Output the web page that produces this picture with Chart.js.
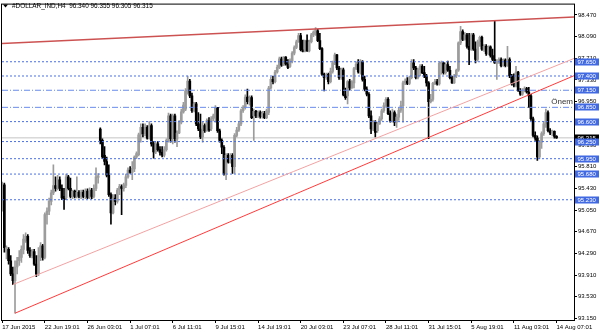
<!DOCTYPE html>
<html>
<head>
<meta charset="utf-8">
<script src="https://cdn.jsdelivr.net/npm/chart.js@4.4.1/dist/chart.umd.min.js"></script>
<style>
html, body { margin: 0; padding: 0; background: #fff; }
</style>
</head>
<body>
<canvas id="chart" width="600" height="333"></canvas>
<script>
// H4 bars of #DOLLAR_IND (bar index 0 = 17 Jun 2015)
const opens = [
  95.09, 95.49, 94.31, 94.36, 94.16, 93.93, 93.81, 94.05, 94.16, 94.22,
  94.36, 94.51, 94.59, 94.34, 94.25, 94.32, 94.10, 93.93, 94.22, 94.42,
  94.22, 94.97, 95.03, 95.20, 95.35, 95.48, 95.43, 95.58, 95.43, 95.29,
  95.26, 95.63, 95.43, 95.29, 95.38, 95.29, 95.36, 95.29, 95.36, 95.29,
  95.38, 95.27, 95.40, 95.29, 95.43, 95.62, 96.47, 96.27, 96.01, 95.90,
  95.66, 95.32, 95.00, 95.26, 95.20, 95.40, 95.46, 95.43, 95.48, 95.63,
  95.75, 95.71, 95.77, 95.98, 96.02, 96.37, 96.50, 96.39, 96.50, 96.31,
  96.53, 96.21, 96.07, 96.21, 96.11, 96.06, 96.01, 96.11, 96.27, 96.70,
  96.30, 96.70, 96.29, 96.40, 96.59, 96.77, 96.82, 97.11, 97.31, 97.05,
  96.79, 96.91, 96.56, 96.47, 96.33, 96.53, 96.44, 96.62, 96.47, 96.65,
  96.67, 96.85, 96.44, 96.27, 96.15, 95.69, 96.01, 95.89, 96.01, 95.81,
  96.36, 96.45, 96.56, 96.79, 96.85, 97.03, 96.95, 97.02, 96.70, 96.78,
  96.70, 96.76, 96.69, 96.74, 96.67, 96.76, 97.19, 97.34, 97.30, 97.47,
  97.55, 97.70, 97.59, 97.73, 97.61, 97.57, 97.66, 97.80, 97.90, 98.00,
  98.11, 97.86, 97.83, 98.02, 97.84, 98.00, 98.12, 98.15, 98.19, 98.02,
  97.88, 97.43, 97.37, 97.43, 97.30, 97.48, 97.63, 97.77, 97.54, 97.37,
  97.51, 97.07, 97.05, 97.30, 97.19, 97.28, 97.53, 97.61, 97.47, 97.65,
  97.34, 97.17, 97.08, 96.70, 96.47, 96.59, 96.44, 96.56, 96.65, 96.79,
  96.88, 96.99, 96.74, 96.62, 96.76, 96.59, 96.68, 96.80, 96.88, 97.28,
  97.31, 97.27, 97.37, 97.63, 97.54, 97.37, 97.51, 97.57, 97.46, 97.40,
  97.28, 96.95, 96.99, 97.27, 97.30, 97.26, 97.62, 97.63, 97.46, 97.60,
  97.50, 97.37, 97.28, 97.40, 97.50, 97.98, 98.18, 98.04, 98.12, 97.92,
  97.86, 98.12, 97.87, 97.69, 98.00, 98.08, 97.87, 97.92, 97.79, 97.91,
  97.76, 97.69, 97.62, 97.66, 97.69, 97.58, 97.68, 97.58, 97.69, 97.40,
  97.27, 97.24, 97.47, 97.15, 97.08, 97.15, 97.18, 97.12, 97.05, 96.65,
  96.36, 96.31, 95.98, 96.24, 96.39, 96.56, 96.76, 96.44, 96.40, 96.43,
  96.34
];
const highs = [
  95.54, 95.52, 94.42, 94.39, 94.25, 94.05, 94.16, 94.22, 94.34, 94.42,
  94.62, 94.65, 94.62, 94.39, 94.36, 94.36, 94.25, 94.39, 94.48, 94.45,
  95.00, 95.09, 95.26, 95.40, 95.84, 95.63, 95.66, 95.63, 95.49, 95.43,
  95.68, 95.66, 95.61, 95.40, 95.40, 95.63, 95.39, 95.40, 95.40, 95.42,
  95.42, 95.44, 95.43, 95.49, 95.79, 95.69, 96.49, 96.30, 96.16, 95.98,
  95.84, 95.35, 95.32, 95.32, 95.43, 95.50, 95.49, 95.52, 95.68, 95.79,
  95.81, 95.90, 96.00, 96.07, 96.40, 96.56, 96.56, 96.56, 96.53, 96.60,
  96.56, 96.25, 96.24, 96.25, 96.16, 96.16, 96.16, 96.30, 96.75, 96.73,
  96.73, 96.73, 96.44, 96.62, 96.82, 96.94, 97.18, 97.40, 97.34, 97.10,
  96.94, 96.94, 96.76, 96.73, 96.59, 96.56, 96.65, 96.67, 96.69, 96.73,
  96.88, 96.85, 96.47, 96.30, 96.18, 96.04, 96.04, 96.04, 96.04, 96.39,
  96.50, 96.59, 96.82, 96.88, 97.07, 97.17, 97.05, 97.05, 96.82, 96.80,
  96.79, 96.79, 96.78, 96.78, 96.82, 97.22, 97.38, 97.40, 97.50, 97.59,
  97.73, 97.73, 97.74, 97.74, 97.69, 97.70, 97.83, 97.93, 98.03, 98.15,
  98.15, 98.03, 98.03, 98.12, 98.03, 98.15, 98.19, 98.25, 98.22, 98.15,
  97.90, 97.45, 97.45, 97.45, 97.54, 97.66, 97.80, 97.78, 97.57, 97.54,
  97.54, 97.19, 97.32, 97.34, 97.32, 97.55, 97.65, 97.69, 97.69, 97.67,
  97.40, 97.21, 97.11, 96.79, 96.62, 96.62, 96.59, 96.69, 96.82, 96.93,
  97.02, 97.02, 96.79, 96.82, 96.79, 96.73, 96.85, 96.96, 97.31, 97.35,
  97.37, 97.40, 97.69, 97.69, 97.57, 97.54, 97.60, 97.60, 97.57, 97.43,
  97.30, 97.08, 97.29, 97.34, 97.34, 97.64, 97.66, 97.64, 97.63, 97.66,
  97.57, 97.40, 97.43, 97.52, 98.00, 98.27, 98.21, 98.16, 98.15, 98.15,
  98.15, 98.15, 98.00, 98.03, 98.10, 98.10, 97.95, 97.95, 97.93, 97.93,
  97.87, 98.37, 97.69, 97.72, 97.72, 97.70, 97.70, 97.92, 97.72, 97.43,
  97.44, 97.57, 97.48, 97.18, 97.18, 97.21, 97.20, 97.20, 97.08, 96.68,
  96.42, 96.35, 96.27, 96.42, 96.60, 96.82, 96.79, 96.48, 96.45, 96.44,
  96.355
];
const lows = [
  95.03, 94.31, 94.19, 94.10, 93.90, 93.74, 93.24, 93.93, 94.08, 94.13,
  94.28, 94.48, 94.29, 94.22, 94.21, 94.08, 93.88, 93.90, 94.16, 94.17,
  94.19, 94.80, 94.97, 95.14, 95.32, 95.38, 95.40, 95.39, 95.23, 95.06,
  95.23, 95.40, 95.26, 95.25, 95.26, 95.26, 95.26, 95.25, 95.26, 95.25,
  95.25, 95.25, 95.25, 95.26, 95.39, 95.52, 96.21, 95.95, 95.84, 95.63,
  95.29, 94.80, 94.98, 95.14, 95.17, 95.32, 94.97, 95.38, 95.44, 95.61,
  95.69, 95.58, 95.72, 95.95, 96.00, 96.24, 96.33, 96.35, 96.29, 96.29,
  96.17, 95.96, 96.04, 96.08, 96.01, 95.98, 95.98, 96.08, 96.24, 96.24,
  96.21, 96.24, 96.16, 96.39, 96.56, 96.75, 96.79, 97.08, 97.02, 96.76,
  96.77, 96.53, 96.44, 96.30, 96.24, 96.41, 96.43, 96.43, 96.44, 96.61,
  96.59, 96.41, 96.24, 96.04, 95.66, 95.58, 95.87, 95.87, 95.69, 95.69,
  96.33, 96.43, 96.53, 96.76, 96.82, 96.91, 96.89, 96.65, 96.27, 96.67,
  96.67, 96.66, 96.66, 96.65, 96.65, 96.72, 97.17, 97.26, 97.28, 97.45,
  97.53, 97.57, 97.58, 97.59, 97.53, 97.55, 97.63, 97.77, 97.88, 97.99,
  97.84, 97.82, 97.82, 97.83, 97.82, 97.98, 98.09, 98.11, 98.00, 97.86,
  97.41, 97.14, 97.34, 97.26, 97.28, 97.45, 97.60, 97.51, 97.34, 97.34,
  97.05, 96.99, 96.91, 97.15, 97.18, 97.19, 97.51, 97.45, 97.43, 97.31,
  97.14, 97.05, 96.67, 96.39, 96.44, 96.33, 96.41, 96.55, 96.62, 96.76,
  96.85, 96.72, 96.59, 96.59, 96.53, 96.50, 96.62, 96.76, 96.59, 97.25,
  97.25, 97.25, 97.35, 97.51, 97.35, 97.35, 97.40, 97.44, 97.37, 97.22,
  96.30, 96.93, 96.96, 97.25, 97.24, 97.24, 97.43, 97.43, 97.43, 97.48,
  97.35, 97.27, 97.27, 97.37, 97.48, 97.95, 98.02, 98.03, 97.89, 97.60,
  97.85, 97.85, 97.63, 97.66, 97.92, 97.85, 97.83, 97.76, 97.77, 97.73,
  97.67, 97.62, 97.34, 97.62, 97.56, 97.57, 97.56, 97.57, 97.37, 97.24,
  97.21, 97.21, 97.13, 97.06, 97.06, 97.12, 97.10, 96.85, 96.62, 96.33,
  96.27, 95.92, 95.95, 96.13, 96.36, 96.50, 96.42, 96.37, 96.35, 96.31,
  96.305
];
const closes = [
  95.49, 94.39, 94.39, 94.16, 93.93, 93.81, 94.05, 94.16, 94.22, 94.36,
  94.54, 94.59, 94.34, 94.25, 94.32, 94.10, 93.93, 94.25, 94.42, 94.22,
  94.97, 95.03, 95.20, 95.35, 95.48, 95.43, 95.58, 95.43, 95.26, 95.23,
  95.63, 95.43, 95.29, 95.38, 95.29, 95.36, 95.29, 95.36, 95.29, 95.38,
  95.27, 95.40, 95.29, 95.43, 95.63, 95.65, 96.27, 95.98, 95.90, 95.66,
  95.32, 95.00, 95.26, 95.20, 95.40, 95.46, 95.43, 95.49, 95.63, 95.75,
  95.71, 95.78, 95.98, 96.04, 96.37, 96.50, 96.39, 96.50, 96.31, 96.53,
  96.21, 96.07, 96.21, 96.11, 96.06, 96.01, 96.11, 96.27, 96.70, 96.30,
  96.70, 96.30, 96.40, 96.59, 96.77, 96.89, 97.14, 97.31, 97.05, 96.79,
  96.91, 96.56, 96.47, 96.33, 96.53, 96.44, 96.62, 96.45, 96.65, 96.70,
  96.85, 96.44, 96.27, 96.15, 95.69, 96.01, 95.89, 96.01, 95.81, 96.36,
  96.45, 96.56, 96.79, 96.85, 97.03, 96.95, 97.02, 96.67, 96.78, 96.70,
  96.76, 96.69, 96.74, 96.67, 96.79, 97.19, 97.34, 97.30, 97.47, 97.55,
  97.70, 97.59, 97.73, 97.61, 97.55, 97.67, 97.80, 97.90, 98.00, 98.11,
  97.86, 97.83, 98.02, 97.84, 98.00, 98.12, 98.17, 98.21, 98.02, 97.88,
  97.43, 97.37, 97.43, 97.30, 97.48, 97.63, 97.77, 97.54, 97.37, 97.51,
  97.07, 97.02, 97.30, 97.19, 97.30, 97.53, 97.61, 97.47, 97.65, 97.34,
  97.17, 97.08, 96.70, 96.47, 96.59, 96.41, 96.56, 96.65, 96.79, 96.88,
  96.99, 96.74, 96.62, 96.76, 96.59, 96.68, 96.80, 96.88, 97.28, 97.31,
  97.27, 97.37, 97.63, 97.54, 97.37, 97.51, 97.57, 97.46, 97.40, 97.28,
  96.95, 96.99, 97.27, 97.30, 97.26, 97.62, 97.63, 97.46, 97.60, 97.50,
  97.37, 97.28, 97.40, 97.50, 97.98, 98.18, 98.04, 98.12, 97.92, 97.86,
  98.12, 97.87, 97.69, 98.00, 98.08, 97.87, 97.92, 97.79, 97.91, 97.76,
  97.69, 97.63, 97.66, 97.69, 97.58, 97.68, 97.58, 97.69, 97.40, 97.27,
  97.24, 97.47, 97.15, 97.08, 97.15, 97.18, 97.12, 97.05, 96.65, 96.36,
  96.31, 95.98, 96.24, 96.39, 96.56, 96.76, 96.44, 96.40, 96.43, 96.34,
  96.315
];

// time axis: one label every 20 bars
const xTickBars = [0, 20, 40, 60, 80, 100, 120, 140, 160, 180, 200, 220, 240, 260];
const xTickLabels = ['17 Jun 2015', '22 Jun 19:01', '26 Jun 03:01', '1 Jul 07:01', '6 Jul 11:01',
  '9 Jul 15:01', '14 Jul 19:01', '20 Jul 03:01', '23 Jul 07:01', '28 Jul 11:01',
  '31 Jul 15:01', '5 Aug 19:01', '11 Aug 03:01', '14 Aug 07:01'];
const yTickValues = [98.47, 98.09, 97.71, 97.33, 96.95, 96.57, 96.19, 95.81, 95.43, 95.05,
  94.67, 94.29, 93.91, 93.53, 93.15];

// horizontal levels drawn on the chart
const levelPrices = [97.65, 97.40, 97.15, 96.85, 96.60, 96.25, 95.95, 95.68, 95.23];
const dashDotLevels = [97.15, 96.85];
const currentPrice = 96.315;

// trend lines: [bar index, price] end points
const trendTop = [[-0.1, 97.97], [268.2, 98.435]];
const trendChannel = [[4.9, 93.74], [268.2, 97.707]];
const trendSupport = [[6.0, 93.24], [268.2, 97.405]];

const headerText = '#DOLLAR_IND,H4  96.340 96.355 96.305 96.315';
const noteText = 'Önem';

const X_MIN = -0.1, X_MAX = 268.2;
const Y_MIN = 93.121, Y_MAX = 98.652;
const FONT = '"Liberation Sans", Arial, sans-serif';

const idx = opens.map((_, i) => i);
const barColors = idx.map(i => closes[i] >= opens[i] ? '#9c9c9c' : '#000000');

function hLine(price, color, dash, order) {
    return {
        type: 'line',
        data: [{ x: X_MIN, y: price }, { x: X_MAX, y: price }],
        borderColor: color, borderWidth: 1, borderDash: dash,
        pointRadius: 0, fill: false, order: order
    };
}

function trend(pts, color, width) {
    return {
        type: 'line',
        data: pts.map(p => ({ x: p[0], y: p[1] })),
        borderColor: color, borderWidth: width,
        pointRadius: 0, fill: false, order: 0
    };
}

const datasets = [];
datasets.push(hLine(currentPrice, '#c4c4c4', [], 5));
// wicks
datasets.push({
    type: 'bar',
    data: idx.map(i => ({ x: i, y: [lows[i], highs[i]] })),
    backgroundColor: barColors, barThickness: 1, grouped: false, order: 3
});
// bodies
datasets.push({
    type: 'bar',
    data: idx.map(i => ({ x: i, y: [opens[i], closes[i]] })),
    backgroundColor: barColors, barThickness: 2, minBarLength: 1, grouped: false, order: 2
});
levelPrices.forEach(p => {
    const dd = dashDotLevels.includes(p);
    datasets.push(hLine(p, dd ? '#6a8cec' : '#4a70e2', dd ? [6, 2, 1, 2] : [2, 2], 1));
});
datasets.push(trend(trendTop, '#cc5252', 1.5));
datasets.push(trend(trendChannel, '#f2a3a3', 1));
datasets.push(trend(trendSupport, '#ff3b3b', 1));

// frame, header, price boxes and the note
const overlay = {
    id: 'overlay',
    afterDraw(chart) {
        const { ctx, chartArea: a, scales: { y } } = chart;
        ctx.save();
        ctx.strokeStyle = '#000';
        ctx.lineWidth = 1;
        ctx.strokeRect(a.left - 0.5, a.top - 0.5, a.right - a.left + 1, a.bottom - a.top + 1);

        // header
        ctx.fillStyle = '#000';
        ctx.beginPath();
        ctx.moveTo(3, 4.5); ctx.lineTo(8, 4.5); ctx.lineTo(5.5, 7.5); ctx.closePath();
        ctx.fill();
        ctx.font = '6.4px ' + FONT;
        ctx.textBaseline = 'middle';
        ctx.textAlign = 'left';
        ctx.fillText(headerText, 12, 6.5);

        // note above the 96.850 line
        ctx.font = '8px ' + FONT;
        ctx.fillStyle = '#333';
        ctx.textAlign = 'right';
        ctx.textBaseline = 'alphabetic';
        ctx.fillText(noteText, a.right - 1, y.getPixelForValue(96.85) - 3.5);

        // price boxes on the axis
        ctx.font = '6px ' + FONT;
        ctx.textAlign = 'left';
        ctx.textBaseline = 'middle';
        const box = (p, fill) => {
            const py = Math.round(y.getPixelForValue(p));
            ctx.fillStyle = fill;
            ctx.fillRect(a.right + 1, py - 3.5, 24, 7);
            ctx.fillStyle = '#fff';
            ctx.fillText(p.toFixed(3), a.right + 3.5, py + 0.5);
        };
        box(currentPrice, '#000');
        levelPrices.forEach(p => box(p, '#4169e1'));
        ctx.restore();
    }
};

new Chart(document.getElementById('chart'), {
    type: 'bar',
    data: { datasets: datasets },
    options: {
        responsive: false,
        animation: false,
        devicePixelRatio: 1,
        layout: { padding: { left: 2, top: 1, right: 0, bottom: 0 } },
        plugins: { legend: { display: false }, tooltip: { enabled: false } },
        scales: {
            x: {
                type: 'linear', min: X_MIN, max: X_MAX, offset: false,
                afterBuildTicks: s => { s.ticks = xTickBars.map(v => ({ value: v })); },
                afterFit: s => { s.height = 13; },
                grid: { drawOnChartArea: false, offset: false, tickLength: 3, color: '#000' },
                border: { display: true, color: '#000' },
                ticks: {
                    autoSkip: false, maxRotation: 0, minRotation: 0, align: 'start', padding: 1,
                    color: '#000', font: { family: FONT, size: 6 },
                    callback: (v, i) => xTickLabels[i]
                }
            },
            y: {
                position: 'right', min: Y_MIN, max: Y_MAX,
                afterBuildTicks: s => { s.ticks = yTickValues.map(v => ({ value: v })); },
                afterFit: s => { s.width = 26; },
                grid: { drawOnChartArea: false, tickLength: 3, color: '#000' },
                border: { display: true, color: '#000' },
                ticks: {
                    autoSkip: false, padding: 1, color: '#000', font: { family: FONT, size: 6 },
                    callback: v => Number(v).toFixed(3)
                }
            }
        }
    },
    plugins: [overlay]
});
</script>
</body>
</html>
